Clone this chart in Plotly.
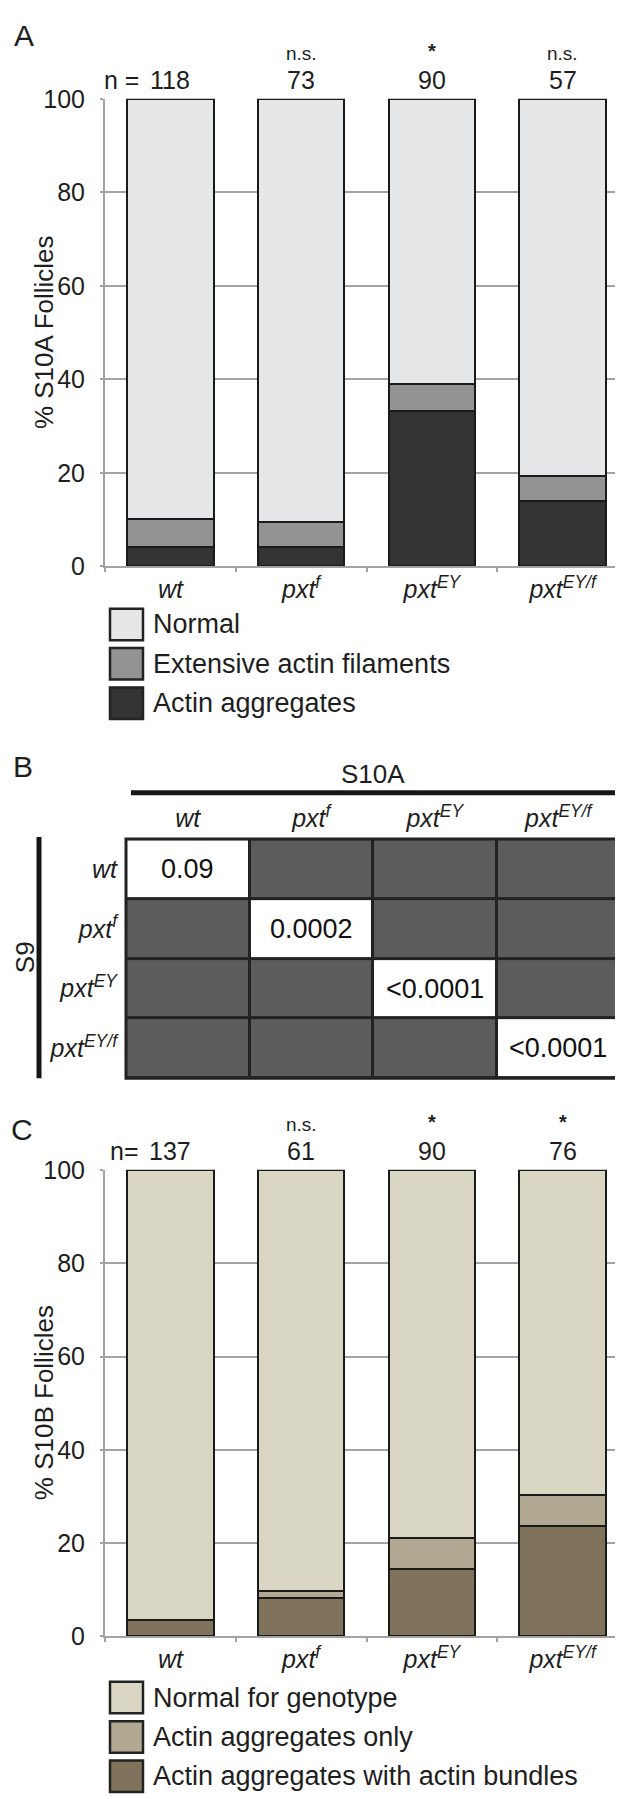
import plotly.graph_objects as go

W, H = 623, 1799
FONT = "Liberation Sans, Arial, Helvetica, sans-serif"
TXT = "#1e1e1e"
GRID = "#a3a3a3"
EDGE = "#1a1a1a"

# ---------------- data ----------------
categories = ["wt", "pxt_f", "pxt_EY", "pxt_EYf"]
tick_labels = ["<i>wt</i>", "<i>pxt<sup>f</sup></i>",
               "<i>pxt<sup>EY</sup></i>", "<i>pxt<sup>EY/f</sup></i>"]
y_ticks = [0, 20, 40, 60, 80, 100]

# Panel A (% S10A follicles)
a_aggregates = [4.2, 4.1, 33.3, 14.0]
a_extensive = [5.9, 5.5, 5.6, 5.3]
a_normal = [89.9, 90.4, 61.1, 80.7]
a_names = ["Actin aggregates", "Extensive actin filaments", "Normal"]
a_colors = ["#333333", "#939393", "#e6e7e8"]
a_n = [118, 73, 90, 57]
a_sig = ["", "n.s.", "*", "n.s."]

# Panel B (p-values, S9 vs S10A)
b_pvalues = ["0.09", "0.0002", "&lt;0.0001", "&lt;0.0001"]

# Panel C (% S10B follicles)
c_bundles = [3.5, 8.2, 14.4, 23.7]
c_only = [0.0, 1.6, 6.7, 6.6]
c_normal = [96.5, 90.2, 78.9, 69.7]
c_names = ["Actin aggregates with actin bundles", "Actin aggregates only", "Normal for genotype"]
c_colors = ["#7f745b", "#b2a993", "#d9d6c4"]
c_n = [137, 61, 90, 76]
c_sig = ["", "n.s.", "*", "*"]


def px_x(p):
    return p / W


def px_y(p):
    return 1 - p / H


fig = go.Figure()

# ---------------- stacked bars ----------------
for vals, name, col in zip([a_aggregates, a_extensive, a_normal], a_names, a_colors):
    fig.add_trace(go.Bar(x=categories, y=vals, name=name, xaxis="x", yaxis="y",
                         marker=dict(color=col, line=dict(color=EDGE, width=2)),
                         showlegend=False, hoverinfo="skip"))
for vals, name, col in zip([c_bundles, c_only, c_normal], c_names, c_colors):
    fig.add_trace(go.Bar(x=categories, y=vals, name=name, xaxis="x2", yaxis="y2",
                         marker=dict(color=col, line=dict(color=EDGE, width=2)),
                         showlegend=False, hoverinfo="skip"))

# ---------------- table (heatmap) ----------------
z = [[1 if i == j else 0 for j in range(len(categories))] for i in range(len(categories))]
fig.add_trace(go.Heatmap(x=categories, y=categories, z=z,
                         colorscale=[[0, "#5c5c5c"], [1, "#ffffff"]], showscale=False,
                         xgap=3, ygap=3, xaxis="x3", yaxis="y3", hoverinfo="skip"))

# ---------------- axes ----------------
bar_x = dict(type="category", categoryorder="array", categoryarray=categories,
             tickmode="array", tickvals=categories, ticktext=tick_labels,
             tickson="boundaries", ticks="outside", ticklen=4, tickwidth=2, tickcolor=GRID,
             showline=True, linecolor=GRID, linewidth=2, showgrid=False, zeroline=False,
             range=[-0.5, 3.5], tickfont=dict(size=25, color=TXT, family=FONT), fixedrange=True)
bar_y = dict(range=[0, 100], tickmode="array", tickvals=y_ticks,
             showgrid=True, gridcolor=GRID, gridwidth=2, showline=True, linecolor=GRID,
             linewidth=2, ticks="outside", ticklen=3, tickwidth=2, tickcolor=GRID,
             zeroline=False, ticklabelstandoff=10,
             tickfont=dict(size=25, color=TXT, family=FONT), fixedrange=True)

fig.update_layout(
    xaxis=dict(bar_x, domain=[px_x(97), px_x(620)], anchor="y"),
    yaxis=dict(bar_y, domain=[px_y(553), px_y(78)], anchor="x"),
    xaxis2=dict(bar_x, domain=[px_x(97), px_x(620)], anchor="y2"),
    yaxis2=dict(bar_y, domain=[px_y(1640), px_y(1166)], anchor="x2"),
    xaxis3=dict(domain=[px_x(118), px_x(612)], anchor="y3", side="top", type="category",
                tickmode="array", tickvals=categories, ticktext=tick_labels,
                range=[-0.5, 3.5], showgrid=False, zeroline=False, showline=False, ticks="",
                ticklabelstandoff=6, tickfont=dict(size=25, color=TXT, family=FONT), fixedrange=True),
    yaxis3=dict(domain=[px_y(1073), px_y(830)], anchor="x3", type="category",
                tickmode="array", tickvals=categories, ticktext=tick_labels,
                range=[3.5, -0.5], showgrid=False, zeroline=False, showline=False, ticks="",
                ticklabelstandoff=8, tickfont=dict(size=25, color=TXT, family=FONT), fixedrange=True),
    barmode="stack", bargap=0.34,
    width=W, height=H, margin=dict(l=0, r=0, t=0, b=0),
    paper_bgcolor="white", plot_bgcolor="white",
    font=dict(family=FONT, color=TXT, size=25),
    showlegend=False,
)

shapes = []
annotations = []

# table frame
shapes.append(dict(type="rect", xref="x3 domain", yref="y3 domain", x0=0, x1=1, y0=0, y1=1,
                   fillcolor="#222222", line=dict(width=0), layer="below"))
shapes.append(dict(type="rect", xref="x3 domain", yref="y3 domain", x0=0, x1=1, y0=0, y1=1,
                   line=dict(color="#222222", width=3), layer="above"))
# p-values on the diagonal cells
for cat, p in zip(categories, b_pvalues):
    annotations.append(dict(text=p, xref="x3", yref="y3", x=cat, y=cat, showarrow=False,
                            xanchor="center", yanchor="middle",
                            font=dict(size=27, color="#111111")))
# S10A / S9 header bars
shapes.append(dict(type="line", xref="paper", yref="paper", x0=px_x(123), x1=px_x(610),
                   y0=px_y(783), y1=px_y(783), line=dict(color="#161616", width=5)))
shapes.append(dict(type="line", xref="paper", yref="paper", x0=px_x(31), x1=px_x(31),
                   y0=px_y(828), y1=px_y(1073), line=dict(color="#161616", width=5)))
annotations.append(dict(text="S10A", xref="paper", yref="paper", x=px_x(365), y=px_y(764),
                        showarrow=False, xanchor="center", yanchor="middle", font=dict(size=26)))
annotations.append(dict(text="S9", xref="paper", yref="paper", x=px_x(17), y=px_y(950),
                        showarrow=False, textangle=-90, xanchor="center", yanchor="middle",
                        font=dict(size=26)))

# panel letters
for letter, (lx, ly) in zip(["A", "B", "C"], [(16, 14), (15, 756), (14, 1125)]):
    annotations.append(dict(text=letter, xref="paper", yref="paper", x=px_x(lx), y=px_y(ly),
                            showarrow=False, xanchor="center", yanchor="middle",
                            font=dict(size=30)))

# y-axis titles
for title, cy in [("% S10A Follicles", 315), ("% S10B Follicles", 1403)]:
    annotations.append(dict(text=title, xref="paper", yref="paper", x=px_x(36), y=px_y(cy),
                            showarrow=False, textangle=-90, xanchor="center", yanchor="middle",
                            font=dict(size=26)))

# n values and significance above bars
for xa, ya, ns, sigs, prefix in [("x", "y", a_n, a_sig, "n ="), ("x2", "y2", c_n, c_sig, "n=")]:
    for cat, n, s in zip(categories, ns, sigs):
        annotations.append(dict(text=str(n), xref=xa, yref=ya, x=cat, y=100, yshift=19,
                                showarrow=False, xanchor="center", yanchor="middle",
                                font=dict(size=25)))
        if s == "*":
            annotations.append(dict(text="<b>*</b>", xref=xa, yref=ya, x=cat, y=100, yshift=48,
                                    showarrow=False, xanchor="center", yanchor="middle",
                                    font=dict(size=20)))
        elif s:
            annotations.append(dict(text=s, xref=xa, yref=ya, x=cat, y=100, yshift=45,
                                    showarrow=False, xanchor="center", yanchor="middle",
                                    font=dict(size=19)))
    annotations.append(dict(text=prefix, xref=xa, yref=ya, x=categories[0], y=100, yshift=19,
                            xshift=-29, showarrow=False, xanchor="right", yanchor="middle",
                            font=dict(size=25)))

# legends (drawn boxes + labels)
for names, cols, top0 in [(a_names, a_colors, 596), (c_names, c_colors, 1686)]:
    for k, (nm, col) in enumerate(zip(reversed(names), reversed(cols))):
        top = top0 + 40 * k
        shapes.append(dict(type="rect", xref="paper", yref="paper",
                           x0=px_x(102), x1=px_x(135), y0=px_y(top + 32), y1=px_y(top),
                           fillcolor=col, line=dict(color="#222222", width=2.5)))
        annotations.append(dict(text=nm, xref="paper", yref="paper", x=px_x(143),
                                y=px_y(top + 16), showarrow=False, xanchor="left",
                                yanchor="middle", font=dict(size=27)))

fig.update_layout(shapes=shapes, annotations=annotations)
fig.write_html("out.html")
